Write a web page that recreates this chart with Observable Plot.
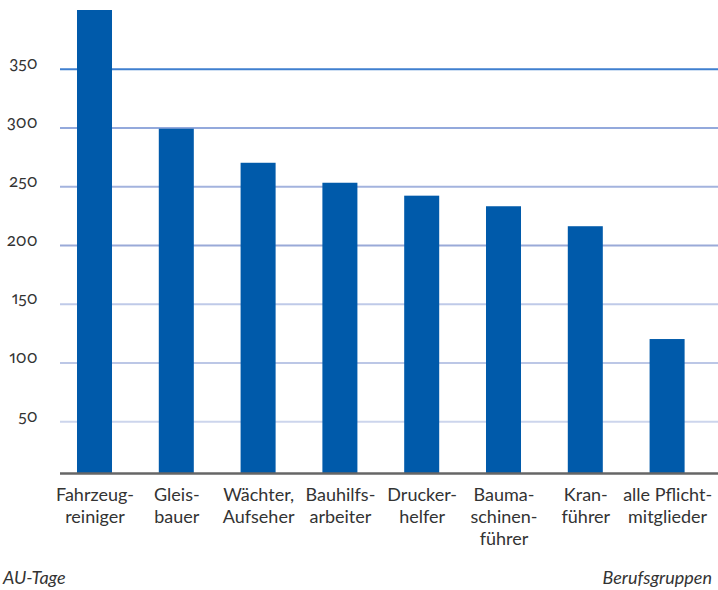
<!DOCTYPE html>
<html>
<head>
<meta charset="utf-8">
<script src="https://cdn.jsdelivr.net/npm/d3@7"></script>
<script src="https://cdn.jsdelivr.net/npm/@observablehq/plot@0.6"></script>
<style>
  body { margin: 0; background: #fff; font-family: Lato, "Open Sans", sans-serif; }
  #chart svg { display: block; }
  #chart text { font-variant-numeric: oldstyle-nums proportional-nums; }
  .caption { display: flex; justify-content: space-between; width: 718px; font-style: italic; font-size: 18px; color: #333; height: 24px; line-height: 22px; padding-top: 10px; }
  .caption span:first-child { padding-left: 3px; }
  .caption span:last-child { padding-right: 6px; }
</style>
</head>
<body>
<div id="chart"></div>
<div class="caption"><span id="ylab"></span><span id="xlab"></span></div>
<script>
const categories = [
  "Fahrzeug-\nreiniger",
  "Gleis-\nbauer",
  "Wächter,\nAufseher",
  "Bauhilfs-\narbeiter",
  "Drucker-\nhelfer",
  "Bauma-\nschinen-\nführer",
  "Kran-\nführer",
  "alle Pflicht-\nmitglieder"
];
const values = [400, 299, 270, 253, 242, 233, 216, 120];
const yTicks = [50, 100, 150, 200, 250, 300, 350];
const gridColors = ["#ccd5ec", "#bcc7e6", "#bfcae8", "#9aaad8", "#a3b3de", "#93a9dc", "#3f7fcf"];
const axisBase = 6;
const yMax = 400;
const yTitle = "AU-Tage";
const xTitle = "Berufsgruppen";

const data = categories.map((c, i) => ({category: c, value: values[i]}));
const grid = yTicks.map((t, i) => ({tick: t, color: gridColors[i]}));

const chart = Plot.plot({
  width: 718,
  height: 556,
  marginLeft: 60,
  marginRight: 0,
  marginTop: 10,
  marginBottom: 83,
  style: {fontFamily: "Lato, 'Open Sans', sans-serif", color: "#333", background: "#fff"},
  x: {domain: categories, range: [53.6, 708], paddingInner: 0.572, paddingOuter: 0.286, round: false, label: null},
  y: {domain: [axisBase, yMax], label: null},
  marks: [
    Plot.ruleY(grid, {y: "tick", stroke: "color", strokeWidth: 2}),
    Plot.barY(data, {x: "category", y1: axisBase, y2: "value", fill: "#005aaa"}),
    Plot.ruleY([axisBase], {stroke: "#666", strokeWidth: 2.5}),
    Plot.axisY(yTicks, {tickSize: 0, tickPadding: 23, fontSize: 17, lineAnchor: "bottom", fill: "#333", label: null}),
    Plot.axisX({tickSize: 0, tickPadding: 12, fontSize: 18, lineHeight: 1.22, fill: "#333", label: null})
  ]
});
document.getElementById("chart").appendChild(chart);
document.getElementById("ylab").textContent = yTitle;
document.getElementById("xlab").textContent = xTitle;
</script>
</body>
</html>
